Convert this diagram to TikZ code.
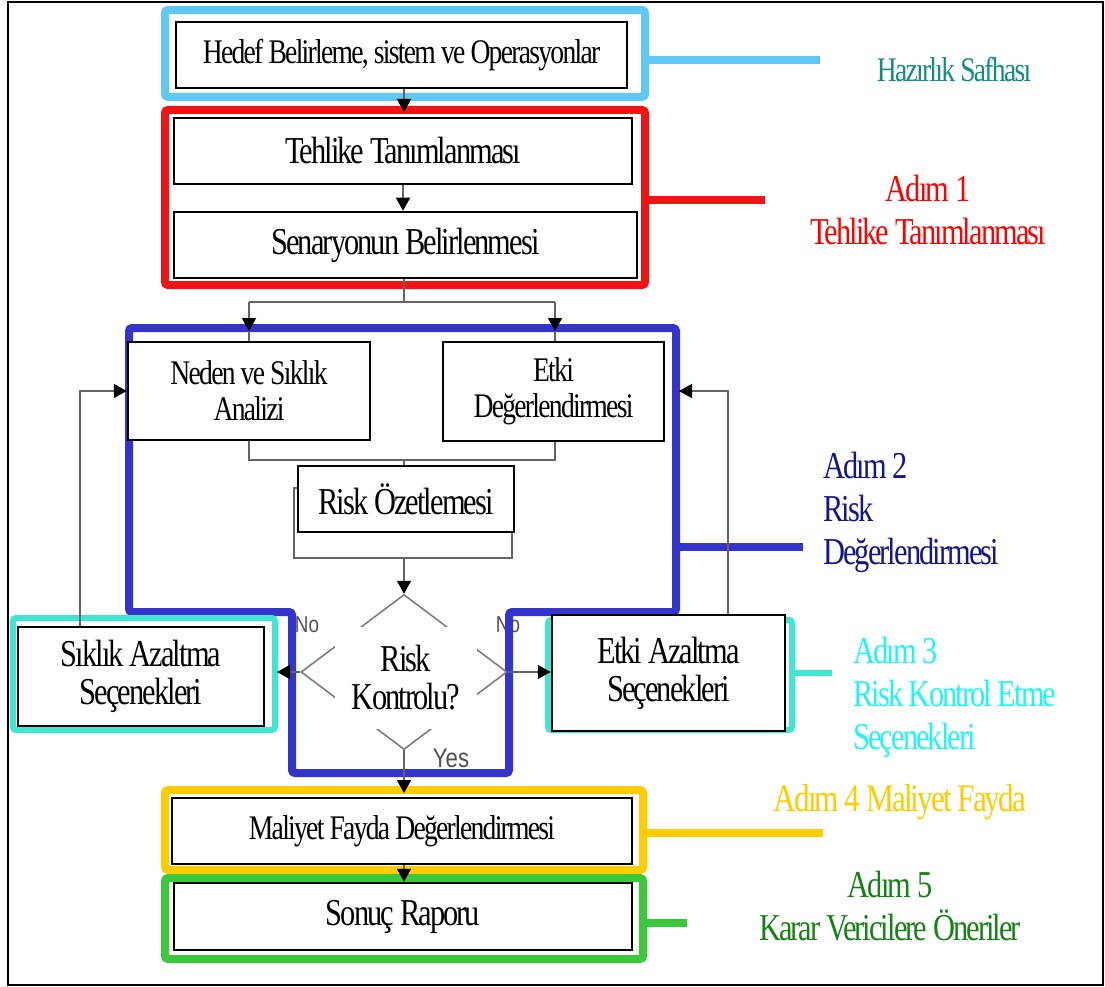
\documentclass[tikz,border=0pt]{standalone}
\usepackage{fontspec}
\setmainfont{Liberation Serif}
\newfontfamily\cond[FakeStretch=0.8,LetterSpace=-5]{Liberation Serif}
\newfontfamily\condsans[FakeStretch=0.82]{Liberation Sans}
\usetikzlibrary{arrows.meta,shapes.geometric}

\definecolor{skyC}{RGB}{95,200,245}
\definecolor{redC}{RGB}{240,20,20}
\definecolor{blueC}{RGB}{52,52,204}
\definecolor{cyanC}{RGB}{64,230,210}
\definecolor{yellowC}{RGB}{255,204,0}
\definecolor{greenC}{RGB}{60,200,60}
\definecolor{tealT}{RGB}{20,140,130}
\definecolor{redT}{RGB}{255,0,0}
\definecolor{navyT}{RGB}{20,20,140}
\definecolor{cyanT}{RGB}{30,245,245}
\definecolor{yellowT}{RGB}{255,204,0}
\definecolor{greenT}{RGB}{20,130,20}
\definecolor{linkgray}{RGB}{100,100,100}
\definecolor{labelgray}{RGB}{80,80,80}
\definecolor{diagray}{RGB}{120,120,120}

\begin{document}
\begin{tikzpicture}[x=1pt,y=-1pt,
  box/.style={draw=black,line width=2.5pt,fill=white,inner sep=0pt,align=center,
    font=\cond\fontsize{38}{38}\selectfont},
  smallbox/.style={box,font=\cond\fontsize{34.5}{36}\selectfont},
  conn/.style={draw=linkgray,line width=1.5pt},
  arr/.style={conn,-{Triangle[length=13pt,width=14pt,color=black,fill=black]}},
  phase/.style={line width=8pt,rounded corners=3pt},
  lead/.style={line width=8pt},
  steplabel/.style={inner sep=0pt,font=\cond\fontsize{38}{43}\selectfont},
  branchlabel/.style={inner sep=0pt,text=labelgray,font=\condsans\fontsize{23}{23}\selectfont}
]
\useasboundingbox (0,0) rectangle (1105,987);
\fill[white] (0,0) rectangle (1105,987);
\draw[line width=2pt] (8,2) rectangle (1103,985);

% branch labels of the decision (lie under the blue frame)
\node[branchlabel] (noL) at (307,625) {No};
\node[branchlabel] (noR) at (508,625) {No};
\node[branchlabel,font=\condsans\fontsize{27}{27}\selectfont] (yes) at (451,758) {Yes};

% phase frames
\draw[phase,skyC] (165,10) rectangle (645,97);
\draw[phase,redC] (165,110) rectangle (645,285);
\draw[phase,blueC] (129,328) -- (676,328) -- (676,612) -- (509,612) -- (509,773)
  -- (292,773) -- (292,612) -- (129,612) -- cycle;
\draw[phase,cyanC,line width=6pt] (13,618) rectangle (275,730);
\draw[phase,cyanC,line width=6pt] (548,620) rectangle (792,730);
\draw[phase,yellowC] (165,790) rectangle (643,870);
\draw[phase,greenC] (165,878) rectangle (643,959);

% frame attachment points
\coordinate (skyOut) at (645,60);   \coordinate (skyEnd) at (820,60);
\coordinate (redOut) at (645,200);  \coordinate (redEnd) at (765,200);
\coordinate (blueOut) at (676,547); \coordinate (blueEnd) at (803,547);
\coordinate (cyanOut) at (792,673); \coordinate (cyanEnd) at (832,673);
\coordinate (yelOut) at (643,833);  \coordinate (yelEnd) at (823,833);
\coordinate (grnOut) at (643,923);  \coordinate (grnEnd) at (687,923);
\draw[lead,skyC] (skyOut) -- (skyEnd);
\draw[lead,redC] (redOut) -- (redEnd);
\draw[lead,blueC] (blueOut) -- (blueEnd);
\draw[lead,cyanC,line width=6pt] (cyanOut) -- (cyanEnd);
\draw[lead,yellowC] (yelOut) -- (yelEnd);
\draw[lead,greenC] (grnOut) -- (grnEnd);

% process boxes
\node[smallbox,minimum width=451pt,minimum height=66pt] (hedef) at (401.5,55)
  {Hedef Belirleme, sistem ve Operasyonlar};
\node[box,minimum width=458pt,minimum height=66pt] (tehlike) at (403,151)
  {Tehlike Tanımlanması};
\node[box,minimum width=463pt,minimum height=66pt] (senaryo) at (405.5,245)
  {Senaryonun Belirlenmesi};
\node[smallbox,minimum width=242pt,minimum height=98pt] (neden) at (249,391)
  {Neden ve Sıklık\\Analizi};
\node[smallbox,minimum width=221pt,minimum height=99pt] (etki) at (553.5,391.5)
  {Etki\\Değerlendirmesi};
\node[draw=linkgray,line width=1.5pt,minimum width=218pt,minimum height=70pt,inner sep=0pt]
  (ozetback) at (403,523) {};
\node[box,minimum width=216pt,minimum height=66pt] (ozet) at (406,499)
  {Risk Özetlemesi};
\node[diamond,draw=diagray,line width=1.5pt,minimum width=206pt,minimum height=155pt,
  inner sep=0pt] (dec) at (404,672) {};
\node[fill=white,inner sep=0pt,minimum width=142pt,minimum height=102pt,align=center,
  font=\cond\fontsize{38}{38}\selectfont] (dectext) at (406,678) {Risk\\Kontrolu?};
\node[box,minimum width=246pt,minimum height=99pt] (siklik) at (141,676.5)
  {Sıklık Azaltma\\Seçenekleri};
\node[box,minimum width=233pt,minimum height=116pt] (etkiaz) at (668.5,673)
  {Etki Azaltma\\Seçenekleri};
\node[smallbox,minimum width=460pt,minimum height=66pt] (maliyet) at (402,831)
  {Maliyet Fayda Değerlendirmesi};
\node[box,minimum width=458pt,minimum height=67pt] (sonuc) at (403,916.5)
  {Sonuç Raporu};

% connector waypoints
\coordinate (redTop) at (404,112);
\coordinate (splitL) at (249,302);
\coordinate (splitR) at (555,302);
\coordinate (blueTopL) at (249,331);
\coordinate (blueTopR) at (555,331);
\coordinate (mergeL) at (249,460);
\coordinate (mergeR) at (555,460);
\coordinate (mergeC) at (404,460);
\coordinate (cyanEdgeL) at (277,672);
\coordinate (yellowTop) at (404,793);
\coordinate (fbL) at (80,391);
\coordinate (fbR) at (728,391);
\coordinate (blueSideR) at (679,391);

% connectors
\draw[arr] (hedef.south -| redTop) -- (redTop);
\draw[arr] (tehlike.south) -- (tehlike.south |- senaryo.north);
\draw[conn] (senaryo.south -| mergeC) -- (mergeC |- splitL);
\draw[conn] (splitL) -- (splitR);
\draw[conn] (blueTopL) -- (neden.north -| blueTopL);
\draw[conn] (blueTopR) -- (etki.north -| blueTopR);
\draw[arr] (splitL) -- (blueTopL);
\draw[arr] (splitR) -- (blueTopR);
\draw[conn] (neden.south -| mergeL) -- (mergeL) -- (mergeR) -- (etki.south -| mergeR);
\draw[conn] (mergeC) -- (ozet.north -| mergeC);
\draw[arr] (ozetback.south -| dec.north) -- (dec.north);
\draw[arr] (dec.west) -- (cyanEdgeL);
\draw[arr] (dec.east) -- (etkiaz.west |- dec.east);
\draw[arr] (dec.south) -- (yellowTop);
\draw[arr] (maliyet.south -| yellowTop) -- (sonuc.north -| yellowTop);
\draw[arr] (siklik.north -| fbL) -- (fbL) -- (neden.west |- fbL);
\draw[arr] (etkiaz.north -| fbR) -- (fbR) -- (blueSideR);

% step captions
\node[steplabel,text=tealT,font=\cond\fontsize{34.5}{40}\selectfont] (capPrep) at (954,70)
  {Hazırlık Safhası};
\node[steplabel,text=redT,align=center] (capStep1) at (928,210)
  {Adım 1\\Tehlike Tanımlanması};
\node[steplabel,text=navyT,align=left,anchor=west] (capStep2) at (823,512)
  {Adım 2\\Risk\\Değerlendirmesi};
\node[steplabel,text=cyanT,align=left,anchor=west] (capStep3) at (853,697)
  {Adım 3\\Risk Kontrol Etme\\Seçenekleri};
\node[steplabel,text=yellowT,font=\cond\fontsize{39}{43}\selectfont] (capStep4) at (900,802)
  {Adım 4 Maliyet Fayda};
\node[steplabel,text=greenT,align=center] (capStep5) at (890,906)
  {Adım 5\\Karar Vericilere Öneriler};
\end{tikzpicture}
\end{document}
